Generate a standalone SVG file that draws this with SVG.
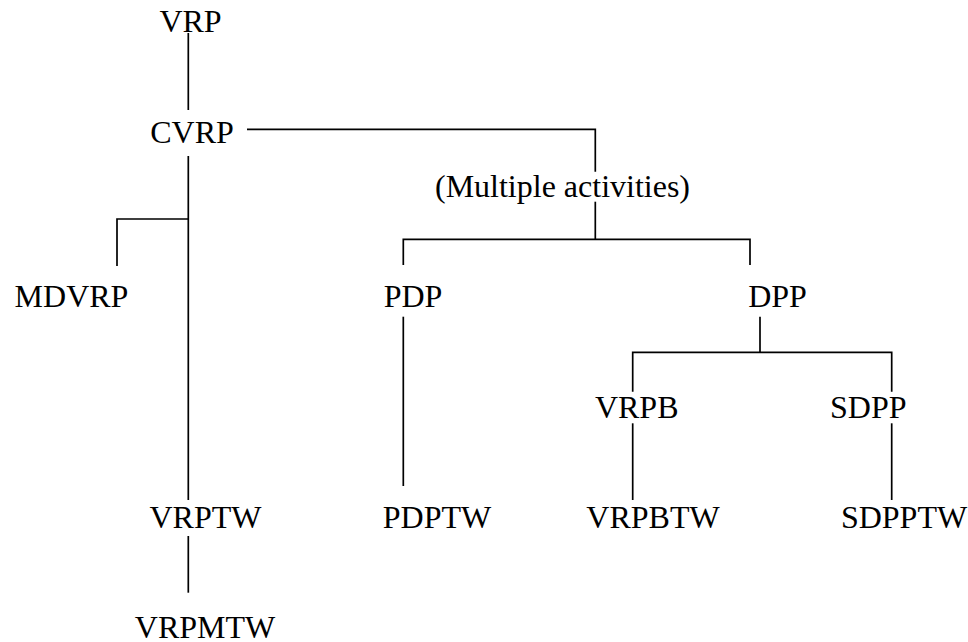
<svg xmlns="http://www.w3.org/2000/svg" width="968" height="642" viewBox="0 0 968 642">
<style>
text{font-family:"Liberation Serif","Times New Roman",serif;font-size:32px;fill:#000;text-anchor:middle}
.c{fill:none;stroke:#000;stroke-width:1.7}
</style>
<rect width="968" height="642" fill="#fff"/>
<g id="connectors">
<path class="c" d="M188.3,33 V110"/>
<path class="c" d="M247,129.3 H595.3 V171.7"/>
<path class="c" d="M595.3,201.7 V239.3"/>
<path class="c" d="M403.3,265 V239.3 H750 V265"/>
<path class="c" d="M188.3,156 V500"/>
<path class="c" d="M188.3,219 H117 V266"/>
<path class="c" d="M188.3,536 V592.7"/>
<path class="c" d="M403.3,316.7 V486"/>
<path class="c" d="M760,316.7 V352.3"/>
<path class="c" d="M632.7,391.7 V352.3 H891.7 V391.7"/>
<path class="c" d="M632.7,423.3 V500"/>
<path class="c" d="M891.7,423.3 V500"/>
</g>
<g id="n-vrp"><text x="190.5" y="32">VRP</text></g>
<g id="n-cvrp"><text x="192" y="143">CVRP</text></g>
<g id="n-multi"><text x="562.5" y="197">(Multiple activities)</text></g>
<g id="n-mdvrp"><text x="71.5" y="307">MDVRP</text></g>
<g id="n-pdp"><text x="413" y="307">PDP</text></g>
<g id="n-dpp"><text x="777.5" y="307">DPP</text></g>
<g id="n-vrpb"><text x="636.7" y="418">VRPB</text></g>
<g id="n-sdpp"><text x="868.3" y="418">SDPP</text></g>
<g id="n-vrptw"><text x="205.5" y="528">VRPTW</text></g>
<g id="n-pdptw"><text x="437" y="528">PDPTW</text></g>
<g id="n-vrpbtw"><text x="653" y="528">VRPBTW</text></g>
<g id="n-sdpptw"><text x="904" y="528">SDPPTW</text></g>
<g id="n-vrpmtw"><text x="205" y="638">VRPMTW</text></g>
</svg>
